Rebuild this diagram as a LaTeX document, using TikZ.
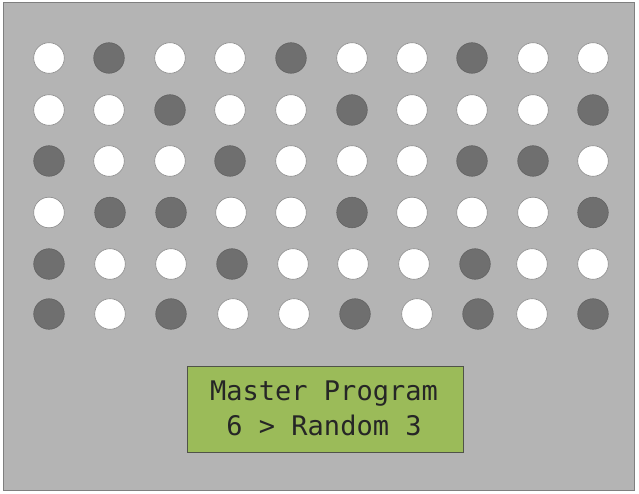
\documentclass[tikz,border=0pt]{standalone}
\usepackage{fontspec}
\setmonofont{DejaVu Sans Mono}
\usepackage{xcolor}
\usepackage{tikz}
\definecolor{panelgray}{RGB}{180, 180, 180}
\definecolor{frameline}{RGB}{127, 127, 127}
\definecolor{lampdark}{RGB}{111, 111, 111}
\definecolor{lcdgreen}{RGB}{155, 187, 89}

\tikzset{
    lit/.style={fill=white, draw=frameline!90, line width=0.6pt},
    unlit/.style={fill=lampdark, draw=lampdark!85!black, line width=0.5pt}
}

\begin{document}
\begin{tikzpicture}[x=1pt, y=-1pt]
    \useasboundingbox (0,0) rectangle (639,494);

    % Panel
    \fill[panelgray] (3,3) rectangle (634,490);
    \draw[frameline, line width=1pt] (3,3) rectangle (634,490);

    % Lamps, row by row
    \foreach \x/\s in {49/lit, 109/unlit, 170/lit, 230/lit, 291/unlit, 352/lit, 412/lit, 472/unlit, 533/lit, 593/lit}
        \draw[\s] (\x,58) circle[radius=15.3pt];
    \foreach \x/\s in {49/lit, 109/lit, 170/unlit, 230/lit, 291/lit, 352/unlit, 412/lit, 472/lit, 533/lit, 593/unlit}
        \draw[\s] (\x,110) circle[radius=15.3pt];
    \foreach \x/\s in {49/unlit, 109/lit, 170/lit, 230/unlit, 291/lit, 352/lit, 412/lit, 472/unlit, 533/unlit, 593/lit}
        \draw[\s] (\x,161) circle[radius=15.3pt];
    \foreach \x/\s in {49/lit, 110/unlit, 171/unlit, 231/lit, 291/lit, 352/unlit, 412/lit, 472/lit, 533/lit, 593/unlit}
        \draw[\s] (\x,212.5) circle[radius=15.3pt];
    \foreach \x/\s in {49/unlit, 110/lit, 171/lit, 232/unlit, 293/lit, 353/lit, 414/lit, 475/unlit, 532/lit, 593/lit}
        \draw[\s] (\x,264) circle[radius=15.3pt];
    \foreach \x/\s in {49/unlit, 110/lit, 171/unlit, 233/lit, 294/lit, 355/unlit, 417/lit, 478/unlit, 532/lit, 593/unlit}
        \draw[\s] (\x,314) circle[radius=15.3pt];

    % Display
    \fill[lcdgreen] (187,366) rectangle (463,452);
    \draw[frameline!80!lcdgreen!60!black, line width=0.6pt] (187,366) rectangle (463,452);
    \node[align=center, font=\fontsize{27}{35}\selectfont\ttfamily, text=black!85] (lcdtext) at (324,408)
        {Master Program\\6 > Random 3};
\end{tikzpicture}
\end{document}
